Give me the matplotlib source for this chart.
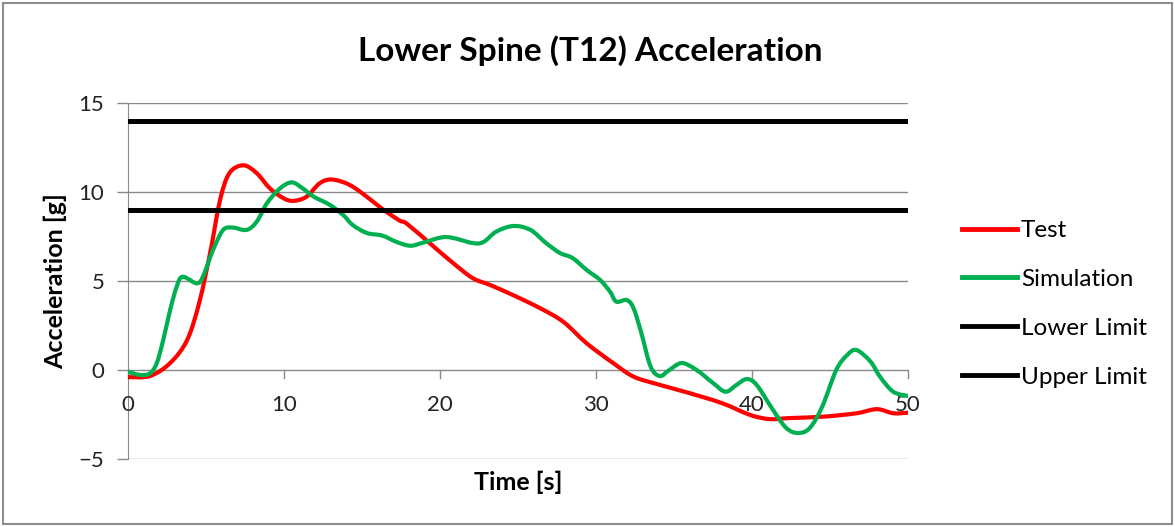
import matplotlib
matplotlib.use("Agg")
import matplotlib.pyplot as plt
from matplotlib.patches import Rectangle, PathPatch
from matplotlib.path import Path
from matplotlib.lines import Line2D

# values
test_time = [0, 1.4, 2.7, 3.8, 4.6, 5.3, 5.9, 6.5, 7.4, 8.25,
             9.1, 9.95, 10.6, 11.45, 12.3, 13.1, 14.2, 15.3, 16.3, 17.4,
             17.9, 19.6, 20.85, 22.1, 23.2, 24.7, 26.4, 27.9, 29.4, 31.1,
             32.4, 33.9, 36.0, 38.1, 39.9, 41.15, 42.4, 44.6, 46.7, 48.0,
             49.05, 50]
test_acc = [-0.4, -0.34, 0.39, 1.7, 3.9, 6.74, 9.55, 11.06, 11.5, 11.06,
            10.2, 9.66, 9.5, 9.74, 10.5, 10.7, 10.4, 9.74, 9.05, 8.4,
            8.2, 6.93, 6.0, 5.16, 4.78, 4.2, 3.48, 2.71, 1.5, 0.39,
            -0.37, -0.79, -1.3, -1.87, -2.53, -2.76, -2.7, -2.62, -2.43, -2.2,
            -2.43, -2.4]

sim_time = [0, 0.77, 1.4, 1.84, 2.26, 2.7, 3.12, 3.5, 4.4, 4.8,
            5.45, 6.1, 6.73, 7.6, 8.25, 8.9, 9.74, 10.5, 11.2, 11.9,
            12.95, 13.8, 14.4, 15.3, 16.3, 17.2, 18.1, 18.9, 20.4, 22.1,
            22.8, 23.6, 24.7, 25.8, 26.8, 27.7, 28.5, 29.4, 30.26, 30.9,
            31.3, 31.97, 32.4, 32.9, 33.5, 34.1, 34.7, 35.5, 36.45,
            37.5, 38.3, 39.0, 39.66, 40.3, 41.35, 42.2, 42.95, 43.7, 44.5,
            45.4, 46.1, 46.7, 47.6, 48.2, 49.05, 50]
sim_acc = [-0.1, -0.28, -0.19, 0.38, 1.69, 3.37, 4.68, 5.24, 4.87, 5.24,
           6.74, 7.87, 8.0, 7.87, 8.33, 9.36, 10.2, 10.54, 10.2, 9.74,
           9.27, 8.7, 8.15, 7.7, 7.55, 7.2, 6.98, 7.15, 7.47, 7.13,
           7.2, 7.77, 8.09, 7.87, 7.13, 6.57, 6.29, 5.62, 5.06, 4.4,
           3.84, 3.93, 3.48, 2.1, 0.19, -0.34, 0.0, 0.39, 0.0,
           -0.73, -1.22, -0.84, -0.51, -0.84, -2.25, -3.26, -3.54, -3.26, -2.06,
           0.0, 0.84, 1.12, 0.47, -0.37, -1.22, -1.46]

lower_limit = 9
upper_limit = 14
x_ticks = [0, 10, 20, 30, 40, 50]
y_ticks = [-5, 0, 5, 10, 15]

RED = "#ff0000"
GREEN = "#00b050"
GRID = "#8a8a8a"


def smooth_path(xs, ys):
    # excel style "smoothed line": bezier segments through the points
    pts = list(zip(xs, ys))
    n = len(pts)
    verts = [pts[0]]
    codes = [Path.MOVETO]
    for i in range(n - 1):
        p0 = pts[i - 1] if i > 0 else pts[i]
        p1 = pts[i]
        p2 = pts[i + 1]
        p3 = pts[i + 2] if i + 2 < n else pts[i + 1]
        c1 = (p1[0] + (p2[0] - p0[0]) / 6, p1[1] + (p2[1] - p0[1]) / 6)
        c2 = (p2[0] - (p3[0] - p1[0]) / 6, p2[1] - (p3[1] - p1[1]) / 6)
        verts += [c1, c2, p2]
        codes += [Path.CURVE4] * 3
    return Path(verts, codes)


plt.rcParams['font.family'] = ['Lato', 'DejaVu Sans']

fig = plt.figure(figsize=(11.75, 5.27), dpi=100)
ax = fig.add_axes([128 / 1175, 1 - 459 / 527, 780 / 1175, 356 / 527])

# frame round the whole chart
fig.patches.append(Rectangle((3 / 1175, 3 / 527), 1 - 6 / 1175, 1 - 6 / 527,
                             transform=fig.transFigure, fill=False,
                             edgecolor="#8c8c8c", linewidth=1.5))

ax.add_patch(PathPatch(smooth_path(test_time, test_acc), fill=False,
                       edgecolor=RED, lw=3, capstyle="round",
                       joinstyle="round", zorder=2))
ax.add_patch(PathPatch(smooth_path(sim_time, sim_acc), fill=False,
                       edgecolor=GREEN, lw=3, capstyle="round",
                       joinstyle="round", zorder=2.1))
ax.axhline(lower_limit, color="black", lw=3.6, zorder=2.2)
ax.axhline(upper_limit, color="black", lw=3.6, zorder=2.3)

ax.set_xlim(0, 50)
ax.set_ylim(-5, 15)
ax.set_xticks(x_ticks)
ax.set_yticks(y_ticks)

for v in y_ticks:
    if v != 0:
        ax.axhline(v, color=GRID, lw=1, zorder=0)

for s in ["top", "right", "bottom"]:
    ax.spines[s].set_visible(False)
ax.spines["left"].set_color(GRID)
ax.spines["left"].set_zorder(0.5)
ax.axhline(0, color=GRID, lw=1, zorder=0.5)

ax.tick_params(axis="y", direction="out", length=8, width=1, color=GRID,
               pad=9, labelsize=16, labelcolor="#222222")
ax.tick_params(axis="x", length=0, pad=0)
ax.set_xticklabels(["" for _ in x_ticks])
# x tick marks and labels hang off the zero line, as in the original
for v in x_ticks:
    ax.plot([v, v], [0, -0.45], color=GRID, lw=1, zorder=0.5, clip_on=False)
    ax.text(v, -1.95, str(v), ha="center", va="center", fontsize=16,
            color="#222222", zorder=0.6)

ax.set_xlabel("Time [s]", fontsize=18, fontweight="bold", va="center")
ax.xaxis.set_label_coords(0.5, (459 - 482) / 356)
ax.set_ylabel("Acceleration [g]", fontsize=18, fontweight="bold", va="center")
ax.yaxis.set_label_coords((55 - 128) / 780, 0.5)
fig.suptitle("Lower Spine (T12) Acceleration", x=590 / 1175, y=1 - 51 / 527,
             va="center", fontsize=24, fontweight="bold")

handles = [Line2D([], [], color=RED, lw=3.5),
           Line2D([], [], color=GREEN, lw=3.5),
           Line2D([], [], color="black", lw=3.5),
           Line2D([], [], color="black", lw=3.5)]
labels = ["Test", "Simulation", "Lower Limit", "Upper Limit"]
ax.legend(handles, labels, loc="upper left",
          bbox_to_anchor=(962 / 1175, 1 - 220 / 527),
          bbox_transform=fig.transFigure, frameon=False, fontsize=17.5,
          handlelength=2.26, handletextpad=0.17, labelspacing=1.15,
          borderpad=0, borderaxespad=0)

fig.savefig("out.png", dpi=100)
